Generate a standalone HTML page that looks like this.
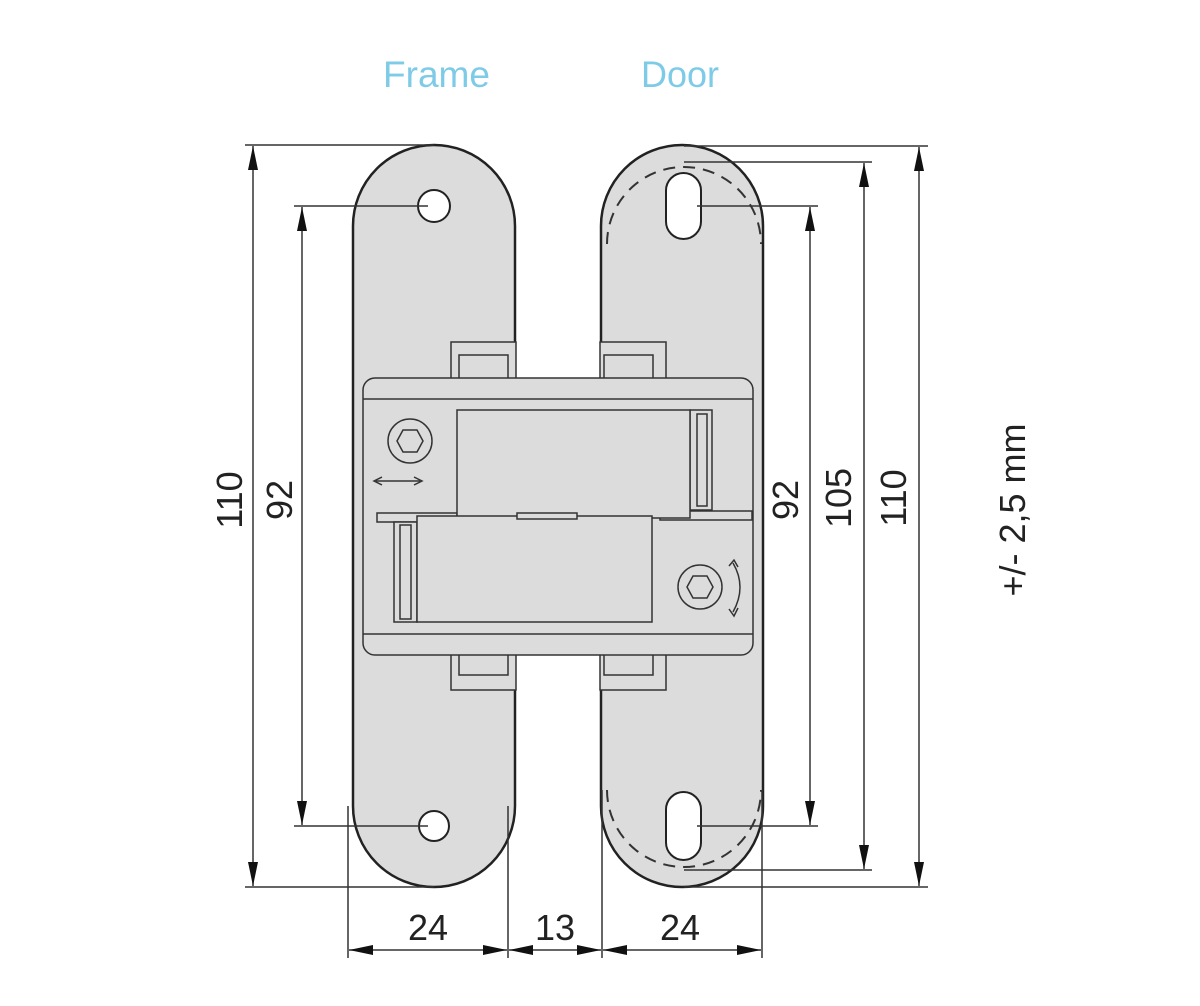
<!DOCTYPE html>
<html><head><meta charset="utf-8"><style>
html,body{margin:0;padding:0;background:#fff;}
svg{display:block;}
text{font-family:"Liberation Sans",sans-serif;}
</style></head><body>
<svg width="1200" height="1006" viewBox="0 0 1200 1006" xmlns="http://www.w3.org/2000/svg">
<defs>
<marker id="a" viewBox="0 0 10 10" refX="10" refY="5" markerWidth="24" markerHeight="10" preserveAspectRatio="none" markerUnits="userSpaceOnUse" orient="auto-start-reverse"><path d="M0,0 L10,5 L0,10z" fill="#111"/></marker>
</defs>
<text x="383" y="87" font-size="37" fill="#7ecbe8" textLength="107" lengthAdjust="spacingAndGlyphs">Frame</text>
<text x="641" y="87" font-size="37" fill="#7ecbe8" textLength="78" lengthAdjust="spacingAndGlyphs">Door</text>

<!-- plates -->
<path d="M353,226 A81,81 0 0 1 515,226 L515,806 A81,81 0 0 1 353,806 Z" fill="#dcdcdc" stroke="#222" stroke-width="2.5"/>
<path d="M601,226 A81,81 0 0 1 763,226 L763,806 A81,81 0 0 1 601,806 Z" fill="#dcdcdc" stroke="#222" stroke-width="2.5"/>
<rect x="517" y="342" width="82" height="348" fill="#fff"/>
<path d="M607,244 A77,77 0 0 1 761,244" fill="none" stroke="#333" stroke-width="2" stroke-dasharray="12,8"/>
<path d="M607,790 A77,77 0 0 0 761,790" fill="none" stroke="#333" stroke-width="2" stroke-dasharray="12,8"/>
<circle cx="434" cy="206" r="16" fill="#fff" stroke="#222" stroke-width="2"/>
<circle cx="434" cy="826" r="15" fill="#fff" stroke="#222" stroke-width="2"/>
<rect x="666" y="173" width="35" height="66" rx="17.5" fill="#fff" stroke="#222" stroke-width="2"/>
<rect x="666" y="792" width="35" height="68" rx="17.5" fill="#fff" stroke="#222" stroke-width="2"/>

<!-- mechanism -->
<g stroke="#333" stroke-width="1.5" fill="#dcdcdc">
<rect x="451" y="342" width="65" height="40"/>
<rect x="459" y="355" width="49" height="48"/>
<rect x="600" y="342" width="66" height="40"/>
<rect x="604" y="355" width="49" height="48"/>
<rect x="451" y="650" width="65" height="40"/>
<rect x="459" y="625" width="49" height="50"/>
<rect x="600" y="650" width="66" height="40"/>
<rect x="604" y="625" width="49" height="50"/>
<rect x="363" y="378" width="390" height="277" rx="12"/>
<line x1="363" y1="399" x2="753" y2="399"/>
<line x1="363" y1="634" x2="753" y2="634"/>
<rect x="377" y="513" width="80" height="9"/>
<rect x="394" y="522" width="23" height="100"/>
<rect x="400" y="525" width="11" height="94"/>
<rect x="690" y="410" width="22" height="100"/>
<rect x="697" y="414" width="10" height="92"/>
<rect x="660" y="511" width="92" height="9"/>
<rect x="457" y="410" width="233" height="108"/>
<rect x="417" y="516" width="235" height="106"/>
<rect x="517" y="513" width="60" height="6"/>
</g>
<g stroke="#333" stroke-width="1.5" fill="none">
<circle cx="410" cy="441" r="22"/>
<path d="M403,430 L417,430 L423,441 L417,452 L403,452 L397,441Z"/>
<circle cx="700" cy="587" r="22"/>
<path d="M693,576 L707,576 L713,587 L707,598 L693,598 L687,587Z"/>
<path d="M376,481 L420,481"/>
<path d="M382,477 L374,481 L382,485 M414,477 L422,481 L414,485"/>
<path d="M733,563 Q747,587 733,612"/>
<path d="M729,566 L734,560 L738,567 M729,609 L734,616 L738,608"/>
</g>

<!-- dimension lines -->
<g stroke="#333" stroke-width="1.5" fill="none">
<line x1="245" y1="145" x2="434" y2="145"/>
<line x1="245" y1="887" x2="434" y2="887"/>
<line x1="294" y1="206" x2="428" y2="206"/>
<line x1="294" y1="826" x2="428" y2="826"/>
<line x1="253" y1="146" x2="253" y2="886" marker-start="url(#a)" marker-end="url(#a)"/>
<line x1="302" y1="207" x2="302" y2="825" marker-start="url(#a)" marker-end="url(#a)"/>
<line x1="684" y1="146" x2="928" y2="146"/>
<line x1="684" y1="162" x2="872" y2="162"/>
<line x1="697" y1="206" x2="818" y2="206"/>
<line x1="697" y1="826" x2="818" y2="826"/>
<line x1="684" y1="870" x2="872" y2="870"/>
<line x1="684" y1="887" x2="928" y2="887"/>
<line x1="810" y1="207" x2="810" y2="825" marker-start="url(#a)" marker-end="url(#a)"/>
<line x1="864" y1="163" x2="864" y2="869" marker-start="url(#a)" marker-end="url(#a)"/>
<line x1="919" y1="147" x2="919" y2="886" marker-start="url(#a)" marker-end="url(#a)"/>
<line x1="348" y1="806" x2="348" y2="958"/>
<line x1="508" y1="806" x2="508" y2="958"/>
<line x1="602" y1="790" x2="602" y2="958"/>
<line x1="762" y1="790" x2="762" y2="958"/>
<line x1="349" y1="950" x2="507" y2="950" marker-start="url(#a)" marker-end="url(#a)"/>
<line x1="509" y1="950" x2="601" y2="950" marker-start="url(#a)" marker-end="url(#a)"/>
<line x1="603" y1="950" x2="761" y2="950" marker-start="url(#a)" marker-end="url(#a)"/>
</g>
<g font-size="36" fill="#222" text-anchor="middle">
<text x="428" y="940">24</text>
<text x="555" y="940">13</text>
<text x="680" y="940">24</text>
<text transform="translate(242,500) rotate(-90)">110</text>
<text transform="translate(292,500) rotate(-90)">92</text>
<text transform="translate(798,500) rotate(-90)">92</text>
<text transform="translate(851,498) rotate(-90)">105</text>
<text transform="translate(906,498) rotate(-90)">110</text>
<text transform="translate(1025,510) rotate(-90)">+/- 2,5 mm</text>
</g>
</svg>
</body></html>
